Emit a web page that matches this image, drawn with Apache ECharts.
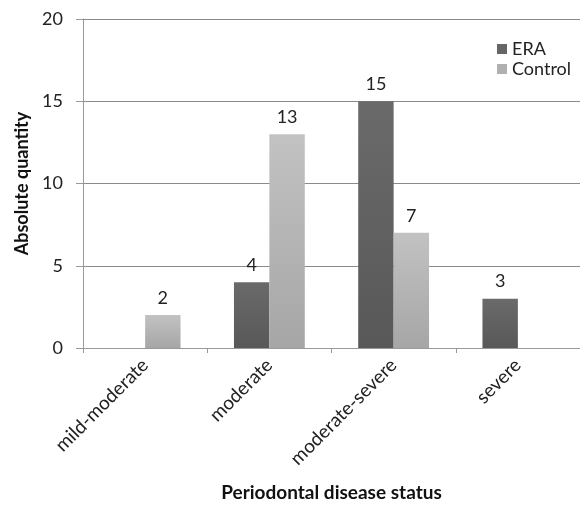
<!DOCTYPE html>
<html><head><meta charset="utf-8">
<script src="https://cdn.jsdelivr.net/npm/echarts@6/dist/echarts.min.js"></script>
<style>html,body{margin:0;padding:0;background:#fff}#c{width:580px;height:514px}</style>
</head><body><div id="c"></div>
<script>
const categories = ['mild-moderate', 'moderate', 'moderate-severe', 'severe'];
const eraValues = [0, 4, 15, 3];
const controlValues = [2, 13, 7, 0];
const yTicks = [0, 5, 10, 15, 20];

const font = 'Lato, "Open Sans", sans-serif';
const grad = (top, bottom) => new echarts.graphic.LinearGradient(0, 0, 0, 1, [
  {offset: 0, color: top}, {offset: 1, color: bottom}]);

const chart = echarts.init(document.getElementById('c'));
chart.setOption({
  animation: false,
  textStyle: {fontFamily: font},
  legend: {
    orient: 'vertical', left: 492, top: 34, itemWidth: 10, itemHeight: 10, itemGap: 0,
    textStyle: {fontSize: 18, color: '#222', fontFamily: font, lineHeight: 20},
    data: [
      {name: 'ERA', icon: 'rect', itemStyle: {color: '#666'}},
      {name: 'Control', icon: 'rect', itemStyle: {color: '#b0b0b0'}}
    ]
  },
  grid: {left: 83, width: 505, top: 19, bottom: 166},
  xAxis: {
    type: 'category', data: categories,
    axisLine: {lineStyle: {color: '#999'}},
    axisTick: {show: true, length: 5, lineStyle: {color: '#999'}},
    axisLabel: {rotate: 45, fontSize: 19, color: '#222', margin: 14, fontFamily: font},
    name: 'Periodontal disease status', nameLocation: 'middle', nameGap: 135,
    nameTextStyle: {fontSize: 19, fontWeight: 'bold', color: '#111', fontFamily: font}
  },
  yAxis: {
    type: 'value', min: yTicks[0], max: yTicks[yTicks.length - 1], interval: 5,
    axisLine: {show: true, lineStyle: {color: '#999'}},
    axisTick: {show: true, length: 7, lineStyle: {color: '#999'}},
    splitLine: {lineStyle: {color: '#8a8a8a', width: 1}},
    axisLabel: {fontSize: 18, color: '#222', margin: 20, fontFamily: font},
    name: 'Absolute quantity', nameLocation: 'middle', nameGap: 46, nameRotate: 90,
    nameTextStyle: {fontSize: 18, fontWeight: 'bold', color: '#111', fontFamily: font}
  },
  series: [
    {
      name: 'ERA', type: 'bar', data: eraValues.map(v => v === 0 ? null : v),
      barGap: '0%', barCategoryGap: '43%',
      itemStyle: {color: grad('#6a6a6a', '#585858')},
      label: {show: true, position: 'top', fontSize: 18, color: '#222', distance: 8, fontFamily: font}
    },
    {
      name: 'Control', type: 'bar', data: controlValues.map(v => v === 0 ? null : v),
      barGap: '0%', barCategoryGap: '43%',
      itemStyle: {color: grad('#c2c2c2', '#a6a6a6')},
      label: {show: true, position: 'top', fontSize: 18, color: '#222', distance: 8, fontFamily: font}
    }
  ]
});
</script></body></html>
